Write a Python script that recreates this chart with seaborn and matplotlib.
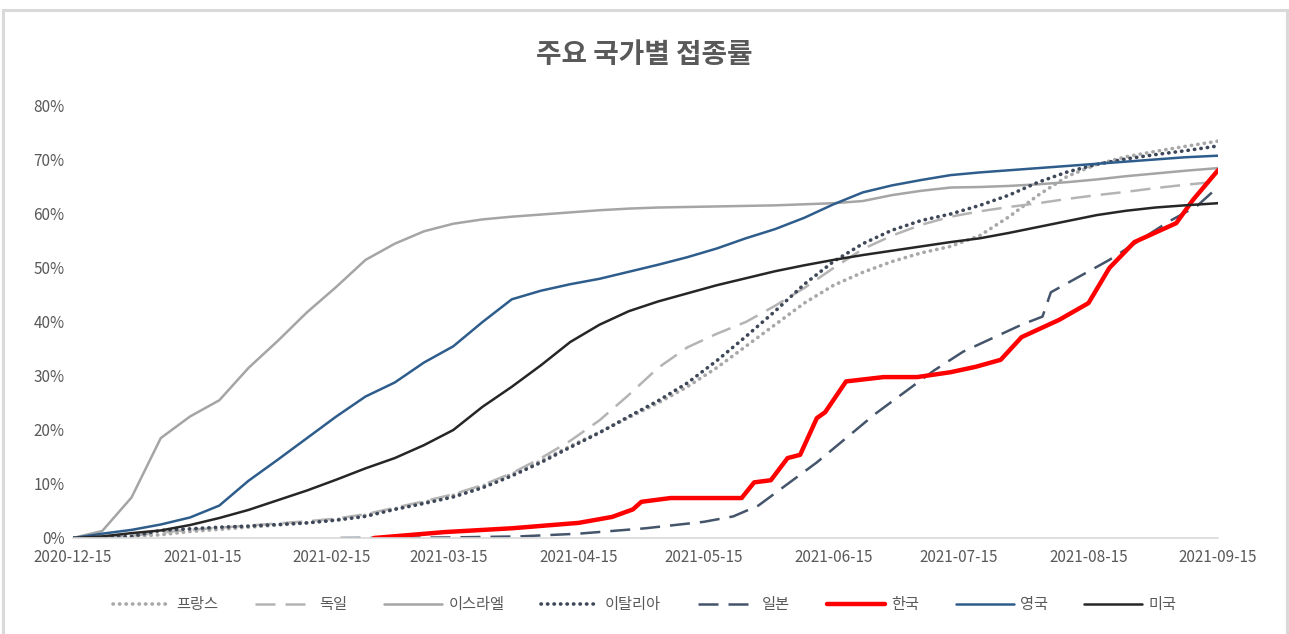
import pandas as pd
import seaborn as sns
import matplotlib.pyplot as plt
import matplotlib.dates as mdates
from matplotlib.patches import Rectangle
from matplotlib.ticker import PercentFormatter

# weekly dates from 2020-12-15, last point 2021-09-15
weeks = list(pd.date_range("2020-12-15", periods=39, freq="7D")) + [pd.Timestamp("2021-09-15")]

france = [0, 0.1, 0.3, 0.6, 1.2, 1.6, 2.0, 2.4, 2.8, 3.4, 4.2, 5.4, 6.6, 7.9, 9.6, 11.8,
          14.3, 17.0, 19.6, 22.3, 25.0, 28.0, 31.5, 35.5, 39.5, 43.5, 46.8, 49.2, 51.2,
          52.8, 54.0, 56.0, 59.5, 63.5, 67.0, 69.2, 70.6, 71.6, 72.5, 73.5]
germany = [0, 0.1, 0.4, 1.0, 1.5, 1.9, 2.3, 2.7, 3.1, 3.6, 4.4, 5.6, 6.8, 8.1, 9.8, 12.0,
           14.8, 18.0, 21.8, 26.5, 31.5, 35.3, 37.8, 40.0, 43.0, 46.3, 50.0, 53.5, 56.0,
           58.0, 59.5, 60.5, 61.3, 62.0, 62.8, 63.5, 64.1, 64.8, 65.4, 66.0]
israel = [0, 1.3, 7.5, 18.5, 22.5, 25.5, 31.5, 36.5, 41.8, 46.5, 51.5, 54.5, 56.8, 58.2,
          59.0, 59.5, 59.9, 60.3, 60.7, 61.0, 61.2, 61.3, 61.4, 61.5, 61.6, 61.8, 62.0,
          62.4, 63.5, 64.3, 64.9, 65.0, 65.2, 65.5, 65.9, 66.4, 67.0, 67.5, 68.0, 68.5]
italy = [0, 0.1, 0.3, 1.4, 1.7, 2.0, 2.2, 2.5, 2.8, 3.3, 4.0, 5.3, 6.4, 7.6, 9.3, 11.5,
         14.0, 16.8, 19.5, 22.5, 25.4, 28.7, 32.8, 37.3, 42.0, 47.0, 51.2, 54.5, 57.0,
         58.8, 60.0, 61.6, 63.5, 65.9, 67.8, 69.2, 70.2, 71.0, 71.7, 72.6]
uk = [0, 0.8, 1.5, 2.5, 3.8, 6.0, 10.6, 14.5, 18.5, 22.5, 26.2, 28.8, 32.5, 35.5, 40.0,
      44.2, 45.8, 47.0, 48.0, 49.3, 50.6, 52.0, 53.6, 55.5, 57.2, 59.3, 61.8, 64.0, 65.3,
      66.3, 67.2, 67.7, 68.1, 68.5, 68.9, 69.3, 69.7, 70.1, 70.5, 70.8]
usa = [0, 0.3, 0.9, 1.4, 2.4, 3.7, 5.2, 7.0, 8.8, 10.8, 12.9, 14.8, 17.2, 20.0, 24.3,
       28.0, 32.0, 36.3, 39.5, 42.0, 43.8, 45.3, 46.8, 48.1, 49.4, 50.5, 51.5, 52.4, 53.2,
       54.0, 54.8, 55.5, 56.5, 57.6, 58.7, 59.8, 60.6, 61.2, 61.6, 62.0]

japan_dates = ["2021-02-17", "2021-03-15", "2021-04-01", "2021-04-15", "2021-05-01",
               "2021-05-15", "2021-05-22", "2021-05-28", "2021-06-04", "2021-06-11",
               "2021-06-18", "2021-06-25", "2021-07-02", "2021-07-09", "2021-07-16",
               "2021-07-23", "2021-07-30", "2021-08-04", "2021-08-06", "2021-08-13",
               "2021-08-20", "2021-08-27", "2021-09-03", "2021-09-10", "2021-09-15"]
japan = [0, 0.1, 0.3, 0.8, 1.8, 3.0, 4.0, 6.0, 10.0, 14.0, 18.5, 23.0, 27.0, 31.0, 34.5,
         37.0, 39.5, 41.0, 45.5, 48.5, 51.5, 55.0, 58.5, 61.5, 65.0]

korea_dates = ["2021-02-25", "2021-03-14", "2021-03-30", "2021-04-15", "2021-04-23",
               "2021-04-28", "2021-04-30", "2021-05-07", "2021-05-24", "2021-05-27",
               "2021-05-31", "2021-06-04", "2021-06-07", "2021-06-11", "2021-06-13",
               "2021-06-18", "2021-06-27", "2021-07-05", "2021-07-13", "2021-07-19",
               "2021-07-25", "2021-07-30", "2021-08-08", "2021-08-15", "2021-08-20",
               "2021-08-26", "2021-09-05", "2021-09-09", "2021-09-15"]
korea = [0, 1.1, 1.8, 2.8, 3.9, 5.3, 6.7, 7.4, 7.4, 10.3, 10.7, 14.8, 15.4, 22.2, 23.3,
         29.0, 29.8, 29.8, 30.7, 31.7, 33.0, 37.2, 40.4, 43.5, 50.0, 54.8, 58.3, 62.6, 68.1]

tick_dates = ["2020-12-15", "2021-01-15", "2021-02-15", "2021-03-15", "2021-04-15",
              "2021-05-15", "2021-06-15", "2021-07-15", "2021-08-15", "2021-09-15"]

countries = ["프랑스", "독일", "이스라엘", "이탈리아", "일본", "한국", "영국", "미국"]
series = {
    "프랑스": (weeks, france),
    "독일": (weeks, germany),
    "이스라엘": (weeks, israel),
    "이탈리아": (weeks, italy),
    "일본": (japan_dates, japan),
    "한국": (korea_dates, korea),
    "영국": (weeks, uk),
    "미국": (weeks, usa),
}

frames = []
for name in countries:
    d, v = series[name]
    frames.append(pd.DataFrame({"date": pd.to_datetime(d), "rate": [x / 100 for x in v],
                                "country": name}))
df = pd.concat(frames, ignore_index=True)

styles = {
    "프랑스": dict(color="#A8A8A8", lw=2.6, ls=(0, (0.1, 1.7))),
    "독일": dict(color="#B4B4B4", lw=1.8, ls=(0, (8, 4))),
    "이스라엘": dict(color="#A5A5A5", lw=1.8, ls="-"),
    "이탈리아": dict(color="#3E4858", lw=2.6, ls=(0, (0.1, 1.7))),
    "일본": dict(color="#44546A", lw=1.8, ls=(0, (8, 4))),
    "한국": dict(color="#FF0000", lw=3.2, ls="-"),
    "영국": dict(color="#2E5D8C", lw=1.8, ls="-"),
    "미국": dict(color="#262626", lw=1.8, ls="-"),
}

sns.set_style("white")
plt.rcParams["font.family"] = ["Noto Sans CJK KR", "DejaVu Sans"]

fig = plt.figure(figsize=(12.89, 6.34), dpi=100)
ax = fig.add_axes([73 / 1289, 1 - 538 / 634, (1218 - 73) / 1289, (538 - 106) / 634])

for name in countries:
    st = styles[name]
    sns.lineplot(data=df[df["country"] == name], x="date", y="rate", ax=ax,
                 color=st["color"], linewidth=st["lw"], label=name)
    line = ax.get_lines()[-1]
    line.set_linestyle(st["ls"])
    line.set_dash_capstyle("round" if name in ("프랑스", "이탈리아") else "butt")

ax.set_xlim(pd.Timestamp("2020-12-15"), pd.Timestamp("2021-09-15"))
ax.set_ylim(0, 0.8)
ax.set_yticks([i / 10 for i in range(9)])
ax.yaxis.set_major_formatter(PercentFormatter(1.0, decimals=0))
ax.set_xticks(pd.to_datetime(tick_dates))
ax.xaxis.set_major_formatter(mdates.DateFormatter("%Y-%m-%d"))
ax.set_xlabel("")
ax.set_ylabel("")

sns.despine(ax=ax, left=True, top=True, right=True)
ax.spines["bottom"].set_color("#D9D9D9")
ax.spines["bottom"].set_linewidth(1.2)
ax.tick_params(axis="x", length=5, color="#D9D9D9", width=1.2, labelsize=11,
               labelcolor="#595959", pad=3)
ax.tick_params(axis="y", length=0, labelsize=11, labelcolor="#595959", pad=6)

fig.text(0.5, 1 - 55 / 634, "주요 국가별 접종률", ha="center", va="center",
         fontsize=20, fontweight="bold", color="#595959")

handles, labels = ax.get_legend_handles_labels()
ax.legend(handles, labels, loc="center", bbox_to_anchor=(0.5, 29 / 634),
          bbox_transform=fig.transFigure, ncol=8, frameon=False, fontsize=11,
          handlelength=3.8, columnspacing=2.4, handletextpad=0.4, labelcolor="#595959")

fig.patches.append(Rectangle((3 / 1289, -0.05), 1284 / 1289, 1.05 - 10 / 634,
                             transform=fig.transFigure, fill=False,
                             edgecolor="#D9D9D9", linewidth=2.2))

fig.savefig("out.png", dpi=100)
